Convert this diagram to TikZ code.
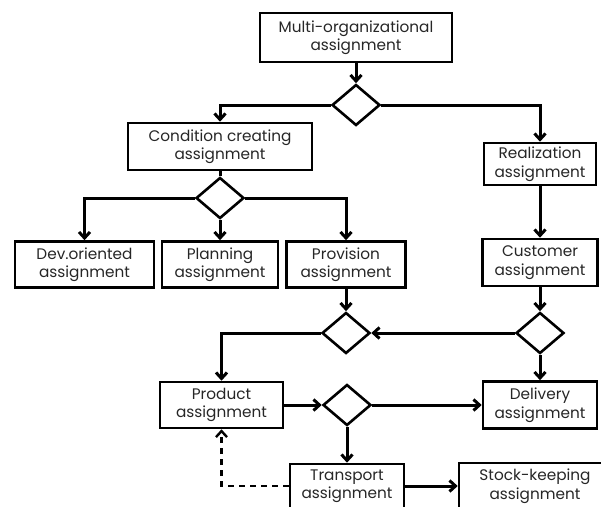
\documentclass[tikz,border=0pt]{standalone}
\usepackage{fontspec}
\setmainfont{Poppins}
\usepackage{tikz}
\usetikzlibrary{arrows.meta,calc,positioning,shapes.geometric}

\begin{document}
\begin{tikzpicture}[x=1pt,y=-1pt,
  box/.style={draw,line width=2.6pt,align=center,inner sep=0pt,minimum height=46pt,
    font=\fontsize{15.3}{18.5}\selectfont,text=black!85},
  dec/.style={draw,diamond,line width=2.6pt,inner sep=0pt,minimum width=48pt,minimum height=41pt},
  flow/.style={line width=3pt,-{Straight Barb[length=6pt,width=11pt]}},
  plain/.style={line width=3pt}]
  \useasboundingbox (0,0) rectangle (601,506);
  \clip (0,0) rectangle (601,506);
  % boxes
  \node[box,minimum width=192pt,minimum height=49pt] (multi) at (356,37.5) {Multi-organizational\\assignment};
  \node[box,minimum width=184pt,minimum height=47pt] (cond) at (220,146.5) {Condition creating\\assignment};
  \node[box,minimum width=112pt,minimum height=42pt] (real) at (540,164) {Realization\\assignment};
  \node[box,minimum width=139pt] (dev) at (84.5,264.5) {Dev.oriented\\assignment};
  \node[box,minimum width=116pt] (plan) at (220,264.5) {Planning\\assignment};
  \node[box,minimum width=119pt] (prov) at (346,264.5) {Provision\\assignment};
  \node[box,minimum width=115pt,minimum height=47pt] (cust) at (540,262.5) {Customer\\assignment};
  \node[box,minimum width=123pt] (prod) at (221.5,405) {Product\\assignment};
  \node[box,minimum width=114pt,minimum height=47pt] (deliv) at (540,405) {Delivery\\assignment};
  \node[box,minimum width=114pt,minimum height=44pt] (transp) at (347,486) {Transport\\assignment};
  \node[box,minimum width=152pt] (stock) at (535,486) {Stock-keeping\\assignment};
  % decisions
  \foreach \n/\x/\y in {d1/356/105,d2/220/198,d3/346/333,d4/540/333,d5/347/405}
    \node[dec] (\n) at (\x,\y) {};
  % connectors
  \foreach \a/\b in {multi/d1,d2/plan,real/cust,prov/d3,cust/d4,d4/deliv,d5/transp}
    \draw[flow] (\a.south) -- (\b.north);
  \draw[plain] (cond.south) -- (d2.north);
  \draw[flow] (d1.west) -| (cond.north);
  \draw[flow] (d1.east) -| (real.north);
  \draw[flow] (d2.west) -| (dev.north);
  \draw[flow] (d2.east) -| (prov.north);
  \draw[flow] (d4.west) -- (d3.east);
  \draw[flow] (d3.west) -| (prod.north);
  \draw[flow] (prod.east) -- (d5.west);
  \draw[flow] (d5.east) -- (deliv.west);
  \draw[flow] (transp.east) -- (stock.west);
  \draw[flow,line width=2.4pt,dash pattern=on 6pt off 5pt] (transp.west) -| (prod.south);
\end{tikzpicture}
\end{document}
